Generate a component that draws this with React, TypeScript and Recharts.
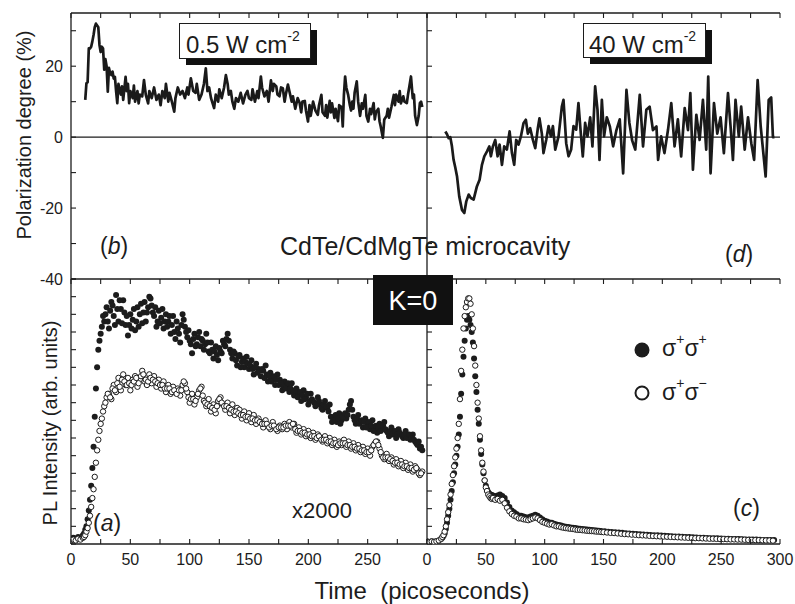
import React from "react";
import { LineChart, Line, ScatterChart, Scatter, XAxis, YAxis, ReferenceLine } from "recharts";

const FONT = '"Liberation Sans", Arial, Helvetica, sans-serif';
const INK = "#1c1c1c";

// axes
const timeTicks = [0, 25, 50, 75, 100, 125, 150, 175, 200, 225, 250, 275, 300];
const timeLabelsLeft = [0, 50, 100, 150, 200, 250];
const timeLabelsRight = [0, 50, 100, 150, 200, 250, 300];
const polTicks = [-40, -30, -20, -10, 0, 10, 20, 30];
const polLabels = [-40, -20, 0, 20];
const plTicksFine = [0, 1, 2, 3, 4, 5, 6, 7, 8, 9, 10, 11, 12, 13, 14, 15];
const plTicksCoarse = [0, 1, 2, 3, 4, 5, 6, 7, 8, 9, 10, 11, 12];

// (b) polarization degree, 0.5 W cm-2  [time ps, %]
const polLow = [
  [12, 10.5], [13, 15.2], [14, 15.5], [15, 25], [16, 25], [17, 25.5], [18, 27], [19, 28.8], [20, 31], [21, 32],
  [22, 31.5], [23, 31], [24, 26], [25, 24], [26, 25.5], [27, 25], [28, 19], [29, 22], [30, 20], [31, 12.8],
  [32, 19.5], [33, 18], [34, 17.5], [35, 18.5], [36, 16.5], [37, 17], [38, 13], [39, 9.6], [40, 15], [42, 12],
  [43, 14.3], [44, 10.5], [46, 17], [47, 13], [48, 15], [49, 9.6], [50, 13], [52, 11], [53, 14.5], [54, 10],
  [56, 13], [57, 9.5], [58, 12], [60, 11.5], [61.5, 16.1], [63, 12], [65, 9.5], [66, 13], [68, 11], [70, 14],
  [72, 10.5], [74, 12], [75.5, 9], [77, 13], [79, 11], [80, 15], [82, 10], [83, 12.5], [85, 10], [87, 7.2],
  [88, 11], [90, 14], [92, 12], [94, 13], [96, 11], [98, 14], [99, 12], [101, 16.6], [103, 13], [105, 12.5],
  [106, 15], [108, 10.5], [110, 12], [112, 15], [113.6, 19.4], [115, 13], [116.4, 14], [118, 11], [120.6, 8.2], [122, 12],
  [124, 10], [125, 13.5], [127, 11], [129, 14], [130.5, 17.5], [132, 15], [133, 12], [134.7, 13], [136, 10], [137.6, 8],
  [139, 11], [141, 10], [143, 12.5], [145, 9.5], [147, 12], [148.7, 13], [150, 11], [152, 10.5], [153, 13.5], [155, 10],
  [157, 13], [158, 11], [160, 17.1], [161, 14], [163, 11.5], [165, 13], [166.5, 10], [168.5, 16], [170, 13], [171, 15],
  [173, 14.3], [174, 12], [175.7, 11.5], [177, 14], [178.5, 13.8], [180, 10], [181, 12], [182.8, 14.8], [184, 13], [186, 10],
  [187, 11.5], [189, 8], [191, 11], [192.7, 9.6], [194, 7], [195, 10], [197, 10.2], [198, 7.5], [199.7, 4.4], [201, 9],
  [202, 6], [204, 10], [206, 7.5], [208, 6.3], [209, 9], [211, 11.9], [212, 7], [214, 6], [215, 9], [216, 5.5],
  [218, 10.2], [219, 7], [220, 9.5], [222, 5.4], [223, 8], [225, 4.5], [226, 9], [228, 8.5], [229, 3], [230, 12],
  [231, 17.1], [232, 14], [233.5, 12], [235, 9], [236, 7.5], [237, 10], [238, 8], [239, 12.5], [240.8, 15.7], [242, 10],
  [243.6, 6], [245, 9.5], [246, 8], [248, 11.9], [249, 6], [250.5, 4.4], [252, 8], [253, 6.5], [255, 9.6], [256, 5],
  [257, 7], [259, 8], [260, 4.5], [261, 3], [262.8, -0.2], [264, 5], [266, 6], [267, 8], [268, 5.5], [270, 8.5],
  [272, 11.9], [273, 9], [274, 12], [276, 10], [277, 13], [278, 9.5], [280, 11.5], [281, 10], [283, 9.6], [284, 12],
  [285, 14], [286.5, 17.1], [287, 15], [288, 11], [289, 12], [290, 6], [291.5, 3.4], [293, 6], [294, 9.6], [295, 10], [296, 8.5],
];

// (d) polarization degree, 40 W cm-2  [time ps, %]
const polHigh = [
  [15.6, 1.6], [17, 0.8], [18.4, -0.3], [19.8, 0], [21.2, -2.6], [22.6, -6.4], [24, -8.5], [25.5, -11], [27.4, -16.7], [29.7, -20.5],
  [31.7, -21.4], [33.4, -18.1], [35.4, -16.2], [37.4, -17.2], [39.6, -17.6], [42.4, -13.9], [44.7, -12], [46.7, -7.8], [48.7, -5.4], [51, -4],
  [53, -2.6], [54.3, -5.4], [56, -2.6], [58, -0.8], [60, -5.4], [61.7, -2.1], [63.7, -7.8], [65.6, -2.6], [67.9, -3.5], [70.2, 1.6],
  [72.2, -4.5], [74.1, -7.8], [75.8, -0.8], [77.8, -2.1], [79.8, 0.2], [82, 3.9], [84, 4.9], [85.7, 1], [87.7, 2.5], [90, -0.8],
  [92, -3.1], [94.2, 2.5], [95.6, 5.3], [97.6, 1], [99, -4.5], [101.3, -0.8], [103.3, 3.1], [105.3, 0.2], [107, 3.1], [109, -3.5],
  [111.8, 0.2], [114.6, 8.6], [116, 10.5], [118.3, -1.7], [120.3, -5.4], [122.5, -3.5], [124.5, 3.1], [126.8, 2.1], [128.7, 9.6], [130.7, 1.1],
  [132.4, -5.4], [134.4, 4], [136.4, 0.2], [138.7, 5.6], [140.6, -2.6], [142.9, 14.3], [144.9, 7.7], [146.6, -6.4], [148.6, 10.5], [150.5, 0.2],
  [152.8, 5.6], [155.4, 3], [158.2, -2.6], [161, 2], [163.8, 5], [166.7, -10.2], [169.5, 13.3], [172, 4], [174.4, -1], [177, -3.5],
  [180.8, 11.9], [183.6, -2.6], [186.4, 7.7], [189.2, 8.6], [192, 2], [195, 3], [196.4, -6.4], [199, 0.2], [201.8, -4.5], [204.8, 2],
  [207.6, 9.6], [210.4, -2.6], [213.2, 5], [216, -5.4], [219, 8.2], [221.8, 2], [223.8, 12.4], [226, -9.2], [228.9, 6.3], [231.7, -0.8],
  [234.5, 10.5], [237.3, -3.5], [239, 17.1], [241, -10.2], [243.9, 9.6], [246.7, 1], [249.5, 5.6], [252.3, -4.5], [255.8, 12.4], [258, 3],
  [260, -6.4], [262.2, 10.5], [265, 0.2], [267, 8.6], [270, -3.5], [272.8, 5.6], [275.6, -1.7], [278, -6.4], [281, 16.1], [283.6, 3],
  [287.8, -11.1], [290.4, 10.5], [292.5, 11.2], [294, 0], [295.3, 0],
];

// (a) PL intensity x2000, low power  [time ps, arb.]
const coA = [
  [0, 0.3], [2, 0.35], [4, 0.3], [6, 0.4], [8, 0.35], [10, 0.5], [11, 0.6], [12, 0.8], [13, 1.0], [14, 1.4],
  [15, 1.9], [16, 2.5], [17, 3.3], [18, 4.3], [19, 5.5], [20, 7.2], [21, 8.8], [22, 10.0], [23, 11.0], [24, 11.5],
  [25, 11.9], [26, 12.3], [27, 12.9], [28, 12.6], [30, 13.4], [32, 12.2], [34, 13.7], [36, 12.9], [38, 14.1], [40, 12.6],
  [42, 13.3], [44, 13.8], [46, 12.4], [48, 11.8], [50, 13.0], [52, 12.7], [54, 12.1], [56, 13.4], [58, 13.0], [60, 12.5],
  [62, 13.7], [64, 13.1], [66, 14.0], [68, 13.5], [70, 12.9], [72, 12.3], [74, 13.2], [76, 12.8], [78, 12.2], [80, 13.0],
  [82, 12.6], [84, 11.9], [86, 12.9], [88, 11.6], [90, 12.2], [92, 11.4], [94, 13.0], [96, 12.3], [98, 11.7], [100, 11.5],
  [102, 10.8], [104, 11.9], [106, 11.3], [108, 12.0], [110, 11.6], [112, 11.0], [114, 11.9], [116, 10.9], [118, 11.4], [120, 10.5],
  [122, 11.2], [124, 10.4], [126, 10.9], [128, 11.5], [130, 11.2], [132, 11.9], [134, 11.0], [136, 10.5], [138, 10.8], [140, 10.1],
  [142, 10.7], [144, 10.3], [146, 10.0], [148, 10.6], [150, 9.9], [152, 10.4], [154, 9.6], [156, 10.2], [158, 9.9], [160, 9.5],
  [162, 9.8], [164, 10.1], [166, 9.2], [168, 9.7], [170, 9.4], [172, 9.0], [174, 9.6], [176, 9.3], [178, 8.7], [180, 9.2],
  [182, 9.0], [184, 8.6], [186, 9.1], [188, 8.4], [190, 8.8], [192, 8.5], [194, 8.1], [196, 8.7], [198, 8.3], [200, 7.9],
  [202, 8.5], [204, 8.1], [206, 7.8], [208, 8.3], [210, 7.9], [212, 7.6], [214, 8.1], [216, 7.7], [218, 7.9], [220, 6.9],
  [222, 7.2], [224, 6.9], [226, 7.4], [228, 7.0], [230, 7.3], [232, 7.1], [234, 7.6], [236, 8.1], [238, 7.2], [240, 6.8],
  [242, 7.3], [244, 6.9], [246, 6.6], [248, 7.1], [250, 6.8], [252, 6.5], [254, 7.0], [256, 6.6], [258, 6.3], [260, 6.8],
  [262, 6.5], [264, 6.9], [266, 6.4], [268, 6.1], [270, 6.6], [272, 6.3], [274, 6.0], [276, 6.5], [278, 6.2], [280, 6.0],
  [282, 6.4], [284, 6.1], [286, 5.9], [288, 6.2], [290, 5.8], [292, 5.6], [294, 5.4], [296, 5.3],
];
// odd-picosecond samples of the same trace
const coAOdd = [
  [29, 13.0], [31, 12.6], [33, 13.2], [35, 13.5], [37, 12.4], [39, 13.3], [41, 13.8], [43, 12.5], [45, 13.1], [47, 12.9],
  [49, 12.4], [51, 12.2], [53, 13.3], [55, 12.6], [57, 12.3], [59, 13.6], [61, 13.1], [63, 12.6], [65, 13.4], [67, 13.9],
  [69, 13.1], [71, 13.4], [73, 12.6], [75, 12.5], [77, 13.3], [79, 12.6], [81, 12.3], [83, 12.9], [85, 12.4], [87, 12.0],
  [89, 12.6], [91, 11.9], [93, 12.4], [95, 12.7], [97, 12.0], [99, 12.1], [101, 11.3], [103, 11.6], [105, 11.2], [107, 11.7],
  [109, 11.2], [111, 11.5], [113, 11.3], [115, 11.4], [117, 10.8], [119, 11.0], [121, 10.9], [123, 10.7], [125, 11.1], [127, 10.8],
  [129, 11.3], [131, 11.6], [133, 11.5], [135, 10.8], [137, 10.9], [139, 10.4], [141, 10.6], [143, 10.0], [145, 10.5], [147, 10.3],
  [149, 10.2], [151, 10.1], [153, 9.9], [155, 10.0], [157, 9.7], [159, 9.8], [161, 9.9], [163, 9.4], [165, 9.6], [167, 9.5],
  [169, 9.2], [171, 9.5], [173, 9.3], [175, 9.0], [177, 9.1], [179, 8.9], [181, 8.8], [183, 9.1], [185, 8.8], [187, 8.6],
  [189, 8.7], [191, 8.3], [193, 8.6], [195, 8.4], [197, 8.2], [199, 8.5], [201, 8.1], [203, 8.2], [205, 8.0], [207, 7.9],
  [209, 8.1], [211, 7.7], [213, 7.9], [215, 7.8], [217, 7.5], [219, 7.2], [221, 7.0], [223, 7.3], [225, 7.1], [227, 6.8],
  [229, 7.2], [231, 7.4], [233, 7.3], [235, 7.9], [237, 7.6], [239, 7.0], [241, 7.1], [243, 6.8], [245, 7.0], [247, 6.9],
  [249, 6.6], [251, 6.9], [253, 6.7], [255, 6.4], [257, 6.7], [259, 6.6], [261, 6.4], [263, 6.7], [265, 6.5], [267, 6.3],
  [269, 6.4], [271, 6.2], [273, 6.4], [275, 6.2], [277, 6.3], [279, 6.1], [281, 6.2], [283, 6.0], [285, 6.2], [287, 6.0],
  [289, 5.9], [291, 5.7], [293, 5.8], [295, 5.5],
];
const crossA = [
  [0, 0.2], [2, 0.25], [4, 0.2], [6, 0.3], [8, 0.25], [10, 0.35], [11, 0.4], [12, 0.5], [13, 0.7], [14, 0.9],
  [15, 1.2], [16, 1.6], [17, 2.1], [18, 2.6], [19, 3.1], [20, 3.8], [21, 4.6], [22, 5.3], [23, 5.9], [24, 6.4],
  [25, 6.8], [26, 7.1], [27, 7.5], [28, 7.8], [30, 8.3], [32, 8.5], [34, 8.2], [36, 9.0], [38, 8.6], [40, 9.4],
  [42, 8.7], [44, 9.6], [46, 9.0], [48, 9.4], [50, 8.7], [52, 9.3], [54, 9.5], [56, 8.9], [58, 9.3], [60, 9.8],
  [62, 9.2], [64, 9.0], [66, 9.6], [68, 9.1], [70, 9.5], [72, 8.9], [74, 9.3], [76, 8.8], [78, 9.2], [80, 8.6],
  [82, 9.0], [84, 8.5], [86, 8.9], [88, 8.6], [90, 8.8], [92, 8.4], [94, 9.0], [96, 9.1], [98, 8.6], [100, 8.0],
  [102, 8.5], [104, 7.9], [106, 8.3], [108, 8.7], [110, 8.9], [112, 8.1], [114, 7.8], [116, 8.2], [118, 7.5], [120, 7.9],
  [122, 7.4], [124, 8.1], [126, 8.3], [128, 7.9], [130, 7.6], [132, 8.0], [134, 7.4], [136, 7.9], [138, 7.3], [140, 7.7],
  [142, 7.6], [144, 7.1], [146, 7.5], [148, 7.0], [150, 7.4], [152, 6.9], [154, 7.3], [156, 6.8], [158, 7.1], [160, 6.9],
  [162, 6.6], [164, 7.0], [166, 6.7], [168, 6.5], [170, 6.9], [172, 6.6], [174, 6.4], [176, 6.7], [178, 6.5], [180, 6.8],
  [182, 6.5], [184, 6.9], [186, 6.6], [188, 6.8], [190, 6.3], [192, 6.6], [194, 6.2], [196, 6.5], [198, 6.1], [200, 6.4],
  [202, 6.0], [204, 6.3], [206, 5.9], [208, 6.2], [210, 6.0], [212, 5.8], [214, 6.1], [216, 5.7], [218, 6.0], [220, 5.6],
  [222, 5.9], [224, 5.5], [226, 5.8], [228, 5.6], [230, 5.9], [232, 5.5], [234, 5.8], [236, 5.4], [238, 5.7], [240, 5.3],
  [242, 5.6], [244, 5.2], [246, 5.5], [248, 5.1], [250, 5.4], [252, 5.0], [254, 5.5], [256, 5.7], [258, 5.8], [260, 5.4],
  [262, 5.0], [264, 4.8], [266, 5.1], [268, 4.7], [270, 4.9], [272, 4.5], [274, 4.8], [276, 4.4], [278, 4.7], [280, 4.3],
  [282, 4.6], [284, 4.2], [286, 4.5], [288, 4.1], [290, 4.4], [292, 4.2], [294, 3.9], [296, 4.1],
];
const crossAOdd = [
  [29, 8.0], [31, 8.5], [33, 8.3], [35, 8.8], [37, 8.7], [39, 9.1], [41, 8.9], [43, 9.3], [45, 9.2], [47, 9.0],
  [49, 9.1], [51, 9.0], [53, 9.2], [55, 9.4], [57, 9.1], [59, 9.5], [61, 9.6], [63, 9.3], [65, 9.2], [67, 9.4],
  [69, 9.3], [71, 9.2], [73, 9.1], [75, 9.0], [77, 9.0], [79, 8.8], [81, 8.8], [83, 8.8], [85, 8.6], [87, 8.7],
  [89, 8.5], [91, 8.7], [93, 8.7], [95, 9.2], [97, 8.8], [99, 8.3], [101, 8.2], [103, 8.2], [105, 8.1], [107, 8.5],
  [109, 8.8], [111, 8.4], [113, 8.0], [115, 7.9], [117, 7.8], [119, 7.7], [121, 7.6], [123, 7.8], [125, 8.2], [127, 8.0],
  [129, 7.8], [131, 7.8], [133, 7.7], [135, 7.6], [137, 7.5], [139, 7.5], [141, 7.4], [143, 7.3], [145, 7.3], [147, 7.2],
  [149, 7.2], [151, 7.1], [153, 7.1], [155, 7.0], [157, 7.0], [159, 6.9], [161, 6.8], [163, 6.8], [165, 6.8], [167, 6.6],
  [169, 6.7], [171, 6.7], [173, 6.5], [175, 6.6], [177, 6.6], [179, 6.6], [181, 6.7], [183, 6.7], [185, 6.7], [187, 6.8],
  [189, 6.5], [191, 6.4], [193, 6.4], [195, 6.3], [197, 6.3], [199, 6.2], [201, 6.2], [203, 6.1], [205, 6.1], [207, 6.0],
  [209, 6.1], [211, 5.9], [213, 5.9], [215, 5.9], [217, 5.8], [219, 5.8], [221, 5.7], [223, 5.7], [225, 5.6], [227, 5.7],
  [229, 5.7], [231, 5.7], [233, 5.6], [235, 5.6], [237, 5.5], [239, 5.5], [241, 5.4], [243, 5.4], [245, 5.3], [247, 5.3],
  [249, 5.2], [251, 5.2], [253, 5.3], [255, 5.6], [257, 5.8], [259, 5.6], [261, 5.2], [263, 4.9], [265, 4.9], [267, 4.9],
  [269, 4.8], [271, 4.7], [273, 4.6], [275, 4.6], [277, 4.5], [279, 4.5], [281, 4.4], [283, 4.4], [285, 4.3], [287, 4.3],
  [289, 4.2], [291, 4.3], [293, 4.0], [295, 4.0],
];

// (c) PL intensity, high power  [time ps, arb.]
const coC = [
  [0, 0.15], [2, 0.12], [4, 0.15], [6, 0.13], [8, 0.16], [10, 0.2], [12, 0.28], [13, 0.35], [14, 0.45], [15, 0.6],
  [16, 0.85], [17, 1.2], [18, 1.6], [19, 2.0], [20, 2.5], [21, 3.0], [22, 3.5], [23, 4.0], [24, 4.5], [25, 5.0],
  [26, 5.5], [27, 6.2], [28, 7.2], [29, 8.5], [30, 9.6], [31, 10.6], [32, 11.5], [33, 12.2], [34, 12.7], [35, 12.9],
  [36, 12.7], [37, 12.4], [38, 12.0], [39, 11.4], [40, 10.5], [41, 9.5], [42, 8.6], [43, 7.6], [44, 6.8], [45, 5.9],
  [46, 5.1], [47, 4.5], [48, 4.0], [49, 3.6], [50, 3.3], [51, 3.1], [52, 2.95], [53, 2.85], [54, 2.8], [55, 2.78],
  [56, 2.75], [58, 2.7], [60, 2.75], [62, 2.8], [64, 2.72], [66, 2.6], [68, 2.35], [70, 2.1], [72, 1.9], [74, 1.8],
  [76, 1.7], [78, 1.62], [80, 1.6], [82, 1.55], [84, 1.52], [86, 1.5], [88, 1.55], [90, 1.6], [92, 1.65], [94, 1.6],
  [96, 1.5], [98, 1.4], [100, 1.32], [102, 1.28], [104, 1.22], [106, 1.2], [108, 1.15], [110, 1.1], [112, 1.08], [114, 1.05],
  [116, 1.0], [118, 0.98], [120, 0.96], [122, 0.94], [124, 0.92], [126, 0.9], [128, 0.88], [130, 0.86], [132, 0.85], [134, 0.84],
  [136, 0.82], [138, 0.8], [140, 0.79], [142, 0.78], [144, 0.76], [146, 0.75], [148, 0.74], [151, 0.72], [154, 0.7], [157, 0.68],
  [160, 0.67], [163, 0.65], [166, 0.63], [169, 0.61], [172, 0.6], [175, 0.58], [178, 0.57], [181, 0.55], [184, 0.54], [187, 0.53],
  [190, 0.51], [193, 0.5], [196, 0.49], [199, 0.48], [202, 0.47], [205, 0.45], [208, 0.44], [211, 0.43], [214, 0.42], [217, 0.41],
  [220, 0.4], [223, 0.39], [226, 0.38], [229, 0.37], [232, 0.36], [235, 0.35], [238, 0.34], [241, 0.33], [244, 0.33], [247, 0.32],
  [250, 0.31], [253, 0.3], [256, 0.3], [259, 0.29], [262, 0.28], [265, 0.28], [268, 0.27], [271, 0.26], [274, 0.26], [277, 0.25],
  [280, 0.25], [283, 0.24], [286, 0.23], [289, 0.23], [292, 0.22], [295, 0.22],
];
const crossC = [
  [0, 0.12], [2, 0.1], [4, 0.14], [6, 0.12], [8, 0.15], [10, 0.2], [12, 0.3], [13, 0.4], [14, 0.5], [15, 0.7],
  [16, 1.0], [17, 1.4], [18, 1.8], [19, 2.2], [20, 2.8], [21, 3.4], [22, 3.9], [23, 4.4], [24, 4.9], [25, 5.4],
  [26, 6.0], [27, 6.8], [28, 8.2], [29, 9.8], [30, 11.0], [31, 12.2], [32, 12.9], [33, 13.4], [34, 13.7], [35, 13.9],
  [36, 13.9], [37, 13.6], [38, 13.0], [39, 12.2], [40, 11.2], [41, 10.1], [42, 9.0], [43, 8.0], [44, 7.1], [45, 6.1],
  [46, 5.3], [47, 4.6], [48, 4.1], [49, 3.6], [50, 3.2], [51, 3.0], [52, 2.8], [53, 2.7], [54, 2.6], [55, 2.55],
  [56, 2.6], [58, 2.5], [60, 2.55], [62, 2.45], [64, 2.5], [66, 2.3], [68, 2.05], [70, 1.85], [72, 1.7], [74, 1.6],
  [76, 1.55], [78, 1.45], [80, 1.45], [82, 1.4], [84, 1.38], [86, 1.35], [88, 1.4], [90, 1.45], [92, 1.5], [94, 1.45],
  [96, 1.35], [98, 1.25], [100, 1.2], [102, 1.15], [104, 1.1], [106, 1.12], [108, 1.05], [110, 1.0], [112, 1.0], [114, 0.95],
  [116, 0.92], [118, 0.9], [120, 0.88], [122, 0.86], [124, 0.85], [126, 0.82], [128, 0.8], [130, 0.8], [132, 0.78], [134, 0.77],
  [136, 0.75], [138, 0.74], [140, 0.73], [142, 0.72], [144, 0.7], [146, 0.7], [148, 0.68], [150, 0.67], [153, 0.65], [156, 0.63],
  [159, 0.62], [162, 0.6], [165, 0.58], [168, 0.56], [171, 0.55], [174, 0.53], [177, 0.52], [180, 0.5], [183, 0.49], [186, 0.48],
  [189, 0.46], [192, 0.45], [195, 0.44], [198, 0.43], [201, 0.42], [204, 0.41], [207, 0.4], [210, 0.39], [213, 0.38], [216, 0.37],
  [219, 0.36], [222, 0.35], [225, 0.34], [228, 0.33], [231, 0.33], [234, 0.32], [237, 0.31], [240, 0.3], [243, 0.3], [246, 0.29],
  [249, 0.28], [252, 0.28], [255, 0.27], [258, 0.26], [261, 0.26], [264, 0.25], [267, 0.25], [270, 0.24], [273, 0.23], [276, 0.23],
  [279, 0.22], [282, 0.22], [285, 0.21], [288, 0.2], [291, 0.2], [294, 0.19],
];

const pts = (pairs: number[][]) => pairs.map(([t, v]) => ({ t, v }));

type Side = "left" | "right" | "top" | "bottom";

// inward tick marks, optional numeric label outside
const tickFor = (side: Side, labels: number[] = []) => (props: any) => {
  const { x, y, payload } = props;
  const v = payload.value;
  const len = 5;
  const dx = side === "left" ? len : side === "right" ? -len : 0;
  const dy = side === "bottom" ? -len : side === "top" ? len : 0;
  const show = labels.includes(v);
  return (
    <g>
      <line x1={x} y1={y} x2={x + dx} y2={y + dy} stroke={INK} strokeWidth={1.1} />
      {show && side === "bottom" && (
        <text x={x} y={y + 21} textAnchor="middle" fontSize={16} fontFamily={FONT} fill={INK}>
          {v}
        </text>
      )}
      {show && side === "left" && (
        <text x={x - 8} y={y + 6} textAnchor="end" fontSize={16} fontFamily={FONT} fill={INK}>
          {v}
        </text>
      )}
    </g>
  );
};

const frame = { stroke: INK, strokeWidth: 1.3 };

const dotFilled = (p: any) => <circle cx={p.cx} cy={p.cy} r={3} fill={INK} />;
const dotOpen = (p: any) => <circle cx={p.cx} cy={p.cy} r={2.7} fill="#fff" stroke={INK} strokeWidth={1} />;

function PolPanel({ left, width, data, yWidth, rightPad, labels }: { left: number; width: number; data: number[][]; yWidth: number; rightPad: number; labels: number[] }) {
  return (
    <div style={{ position: "absolute", left, top: 0 }}>
      <LineChart width={width} height={290} data={pts(data)} margin={{ top: 0, right: rightPad, bottom: 11, left: 0 }}>
        <XAxis dataKey="t" type="number" domain={[0, 300]} ticks={timeTicks} interval={0} height={0} tickSize={0} tickMargin={0} tickLine={false} axisLine={frame} tick={tickFor("bottom")} allowDataOverflow />
        <XAxis xAxisId="top" orientation="top" dataKey="t" type="number" domain={[0, 300]} ticks={timeTicks} interval={0} height={13} tickSize={0} tickMargin={0} tickLine={false} axisLine={frame} tick={tickFor("top")} allowDataOverflow />
        <YAxis type="number" domain={[-40, 35]} ticks={polTicks} interval={0} width={yWidth} tickSize={0} tickMargin={0} tickLine={false} axisLine={frame} tick={tickFor("left", labels)} allowDataOverflow />
        <YAxis yAxisId="r" orientation="right" type="number" domain={[-40, 35]} ticks={polTicks} interval={0} width={0} tickSize={0} tickMargin={0} tickLine={false} axisLine={frame} tick={tickFor("right")} allowDataOverflow />
        <ReferenceLine y={0} stroke={INK} strokeWidth={1.2} />
        <Line type="linear" dataKey="v" stroke="#1a1a1a" strokeWidth={2.7} strokeLinejoin="round" dot={false} isAnimationActive={false} />
      </LineChart>
    </div>
  );
}

function PLPanel({ left, width, yWidth, rightPad, co, cross, xLabels, rightTicks }: { left: number; width: number; yWidth: number; rightPad: number; co: number[][]; cross: number[][]; xLabels: number[]; rightTicks: number[] }) {
  return (
    <div style={{ position: "absolute", left, top: 270 }}>
      <ScatterChart width={width} height={334} margin={{ top: 0, right: rightPad, bottom: 0, left: 0 }}>
        <XAxis dataKey="t" type="number" domain={[0, 300]} ticks={timeTicks} interval={0} height={60} tickSize={0} tickMargin={0} tickLine={false} axisLine={frame} tick={tickFor("bottom", xLabels)} allowDataOverflow />
        <XAxis xAxisId="top" orientation="top" dataKey="t" type="number" domain={[0, 300]} ticks={timeTicks} interval={0} height={9} tickSize={0} tickMargin={0} tickLine={false} axisLine={frame} tick={tickFor("top")} allowDataOverflow />
        <YAxis dataKey="v" type="number" domain={[0, 15]} ticks={plTicksFine} interval={0} width={yWidth} tickSize={0} tickMargin={0} tickLine={false} axisLine={frame} tick={tickFor("left")} allowDataOverflow />
        <YAxis yAxisId="r" orientation="right" type="number" domain={[0, rightTicks[rightTicks.length - 1]]} ticks={rightTicks} interval={0} width={0} tickSize={0} tickMargin={0} tickLine={false} axisLine={frame} tick={tickFor("right")} allowDataOverflow />
        <Scatter data={pts(co)} dataKey="v" shape={dotFilled} isAnimationActive={false} />
        <Scatter data={pts(cross)} dataKey="v" shape={dotOpen} isAnimationActive={false} />
      </ScatterChart>
    </div>
  );
}

const txt = { fontFamily: FONT, fill: INK } as const;

export default function App() {
  return (
    <div style={{ position: "absolute", left: 0, top: 0, width: 795, height: 604, background: "#fff", overflow: "hidden" }}>
      <PolPanel left={0} width={440} data={polLow} yWidth={71} rightPad={13} labels={polLabels} />
      <PolPanel left={400} width={395} data={polHigh} yWidth={27} rightPad={15} labels={[]} />
      <PLPanel left={0} width={440} yWidth={71} rightPad={13} co={[...coA, ...coAOdd]} cross={[...crossA, ...crossAOdd]} xLabels={timeLabelsLeft} rightTicks={plTicksFine} />
      <PLPanel left={400} width={395} yWidth={27} rightPad={15} co={coC} cross={crossC} xLabels={timeLabelsRight} rightTicks={plTicksCoarse} />

      <svg width={795} height={604} style={{ position: "absolute", left: 0, top: 0, pointerEvents: "none" }}>
        <text transform="translate(31,135) rotate(-90)" textAnchor="middle" fontSize={20} {...txt}>Polarization degree (%)</text>
        <text transform="translate(57,423) rotate(-90)" textAnchor="middle" fontSize={20} {...txt}>PL Intensity (arb. units)</text>
        <text x={422} y={599} textAnchor="middle" fontSize={24} {...txt}>{"Time\u00a0 (picoseconds)"}</text>

        <rect x={186} y={30} width={131} height={35} fill="#111" />
        <rect x={179.5} y={23.5} width={131} height={35} fill="#fff" stroke={INK} strokeWidth={1} />
        <text x={186} y={53} fontSize={24} {...txt}>0.5 W cm<tspan dy={-12} fontSize={14}>-2</tspan></text>

        <rect x={590} y={30} width={122} height={34} fill="#111" />
        <rect x={583.5} y={23.5} width={122} height={34} fill="#fff" stroke={INK} strokeWidth={1} />
        <text x={589} y={53} fontSize={24} {...txt}>40 W cm<tspan dy={-12} fontSize={14}>-2</tspan></text>

        <text x={100} y={254} fontSize={23} {...txt}>(<tspan fontStyle="italic">b</tspan>)</text>
        <text x={280} y={255} fontSize={25} {...txt}>CdTe/CdMgTe microcavity</text>
        <text x={725} y={262} fontSize={23} {...txt}>(<tspan fontStyle="italic">d</tspan>)</text>
        <text x={93} y={531} fontSize={23} {...txt}>(<tspan fontStyle="italic">a</tspan>)</text>
        <text x={292} y={518} fontSize={22} {...txt}>x2000</text>
        <text x={733} y={516} fontSize={23} {...txt}>(<tspan fontStyle="italic">c</tspan>)</text>

        <rect x={373} y={275} width={80} height={50} fill="#111" />
        <text x={413} y={310} textAnchor="middle" fontSize={27} fontFamily={FONT} fill="#fff">K=0</text>

        <circle cx={642} cy={350} r={7.5} fill={INK} />
        <text x={662} y={356} fontSize={23} {...txt}>σ<tspan dy={-12} fontSize={14}>+</tspan><tspan dy={12}>σ</tspan><tspan dy={-12} fontSize={14}>+</tspan></text>
        <circle cx={642} cy={393} r={6.5} fill="#fff" stroke={INK} strokeWidth={2} />
        <text x={662} y={400} fontSize={23} {...txt}>σ<tspan dy={-12} fontSize={14}>+</tspan><tspan dy={12}>σ</tspan><tspan dy={-12} fontSize={14}>−</tspan></text>
      </svg>
    </div>
  );
}
